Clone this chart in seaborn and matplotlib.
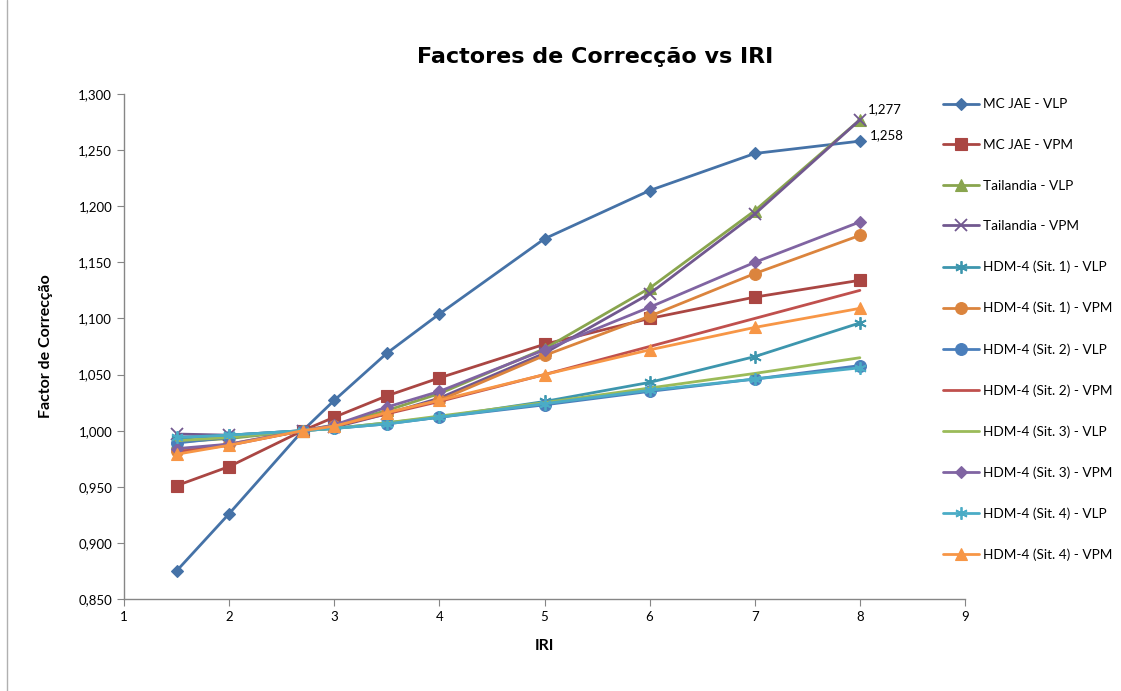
import seaborn as sns
import matplotlib.pyplot as plt
import pandas as pd
import numpy as np
from matplotlib.ticker import FuncFormatter, MultipleLocator
from matplotlib.lines import Line2D

iri = [1.5, 2, 2.7, 3, 3.5, 4, 5, 6, 7, 8]

mc_jae_vlp = [0.875, 0.926, 1.000, 1.027, 1.069, 1.104, 1.171, 1.214, 1.247, 1.258]
mc_jae_vpm = [0.951, 0.968, 1.000, 1.012, 1.031, 1.047, 1.077, 1.100, 1.119, 1.134]
tailandia_vlp = [0.990, 0.993, 1.000, 1.005, 1.018, 1.033, 1.073, 1.127, 1.196, 1.277]
tailandia_vpm = [0.997, 0.996, 1.000, 1.003, 1.015, 1.029, 1.069, 1.122, 1.193, 1.277]
hdm_s1_vlp = [0.993, 0.996, 1.000, 1.002, 1.007, 1.012, 1.026, 1.043, 1.066, 1.096]
hdm_s1_vpm = [0.982, 0.988, 1.000, 1.004, 1.016, 1.027, 1.067, 1.102, 1.140, 1.174]
hdm_s2_vlp = [0.989, 0.994, 1.000, 1.002, 1.006, 1.012, 1.023, 1.035, 1.046, 1.058]
hdm_s2_vpm = [0.981, 0.987, 1.000, 1.004, 1.015, 1.026, 1.050, 1.075, 1.100, 1.125]
hdm_s3_vlp = [0.991, 0.994, 1.000, 1.002, 1.007, 1.013, 1.025, 1.038, 1.051, 1.065]
hdm_s3_vpm = [0.984, 0.988, 1.000, 1.005, 1.021, 1.035, 1.072, 1.110, 1.150, 1.186]
hdm_s4_vlp = [0.994, 0.996, 1.000, 1.002, 1.006, 1.012, 1.024, 1.036, 1.046, 1.056]
hdm_s4_vpm = [0.979, 0.987, 1.000, 1.004, 1.016, 1.027, 1.050, 1.072, 1.092, 1.109]

series_names = ["MC JAE - VLP", "MC JAE - VPM", "Tailandia - VLP", "Tailandia - VPM",
                "HDM-4 (Sit. 1) - VLP", "HDM-4 (Sit. 1) - VPM",
                "HDM-4 (Sit. 2) - VLP", "HDM-4 (Sit. 2) - VPM",
                "HDM-4 (Sit. 3) - VLP", "HDM-4 (Sit. 3) - VPM",
                "HDM-4 (Sit. 4) - VLP", "HDM-4 (Sit. 4) - VPM"]
series_values = [mc_jae_vlp, mc_jae_vpm, tailandia_vlp, tailandia_vpm,
                 hdm_s1_vlp, hdm_s1_vpm, hdm_s2_vlp, hdm_s2_vpm,
                 hdm_s3_vlp, hdm_s3_vpm, hdm_s4_vlp, hdm_s4_vpm]

colors = ["#4572A7", "#AA4643", "#89A54E", "#71588F", "#3D96AE", "#DB843D",
          "#4A7EBB", "#C0504D", "#9BBB59", "#8064A2", "#4BACC6", "#F79646"]
asterisk = (6, 2, 0)
markers = ["D", "s", "^", "x", asterisk, "o", "o", None, None, "D", asterisk, "^"]
msizes = [6, 8.5, 8, 8, 9, 8.5, 8.5, 0, 0, 6.5, 9, 8]

df = pd.concat([pd.DataFrame({"IRI": iri, "factor": v, "serie": n})
                for n, v in zip(series_names, series_values)])

sns.set_style("white")
plt.rcParams["font.family"] = ["Lato", "DejaVu Sans"]
plt.rcParams["text.color"] = "black"
plt.rcParams["axes.labelcolor"] = "black"

fig = plt.figure(figsize=(11.21, 6.91), dpi=100)
ax = fig.add_axes([124 / 1121, 1 - 599 / 691, (965 - 124) / 1121, (599 - 94) / 691])

for name, col, mk, ms in zip(series_names, colors, markers, msizes):
    sub = df[df["serie"] == name]
    if mk is None:
        kw = dict(marker=None)
    else:
        kw = dict(marker=mk, markersize=ms, markeredgecolor=col, markerfacecolor=col)
        if mk in ("x", asterisk):
            kw["markeredgewidth"] = 1.3
        else:
            kw["markeredgewidth"] = 0.8
    sns.lineplot(data=sub, x="IRI", y="factor", color=col, linewidth=2.0,
                 label=name, ax=ax, **kw)

ax.set_xlim(1, 9)
ax.set_ylim(0.85, 1.30)
ax.xaxis.set_major_locator(MultipleLocator(1))
ax.yaxis.set_major_locator(MultipleLocator(0.05))
ax.yaxis.set_major_formatter(FuncFormatter(lambda v, p: f"{v:.3f}".replace(".", ",")))
ax.xaxis.set_major_formatter(FuncFormatter(lambda v, p: f"{v:.0f}"))
ax.tick_params(axis="both", direction="out", length=5, color="#868686",
               labelsize=9.5, labelcolor="#000000", bottom=True, left=True)
for s in ["top", "right"]:
    ax.spines[s].set_visible(False)
for s in ["left", "bottom"]:
    ax.spines[s].set_color("#868686")
    ax.spines[s].set_linewidth(1)

ax.set_xlabel("IRI", fontsize=11.5, fontweight="bold", labelpad=12)
ax.set_ylabel("Factor de Correcção", fontsize=11.5, fontweight="bold", labelpad=18)

fig.text(595 / 1121, 1 - 57 / 691, "Factores de Correcção vs IRI", fontsize=16,
         fontweight="bold", family="DejaVu Sans", ha="center", va="center")

ax.annotate(f"{tailandia_vlp[-1]:.3f}".replace(".", ","), (iri[-1], tailandia_vlp[-1]),
            xytext=(6, 8), textcoords="offset points", fontsize=9.5, va="center")
ax.annotate(f"{mc_jae_vlp[-1]:.3f}".replace(".", ","), (iri[-1], mc_jae_vlp[-1]),
            xytext=(7, 4), textcoords="offset points", fontsize=9.5, va="center")

ax.legend(loc="upper left", bbox_to_anchor=(938 / 1121, 1 - 93 / 691),
          bbox_transform=fig.transFigure, frameon=False, fontsize=9.8,
          labelspacing=2.1, handlelength=2.6, handletextpad=0.3, borderaxespad=0)

fig.add_artist(Line2D([7 / 1121, 7 / 1121], [0, 1], transform=fig.transFigure,
                      color="#B0B0B0", linewidth=1))

plt.savefig("out.png", dpi=100)
